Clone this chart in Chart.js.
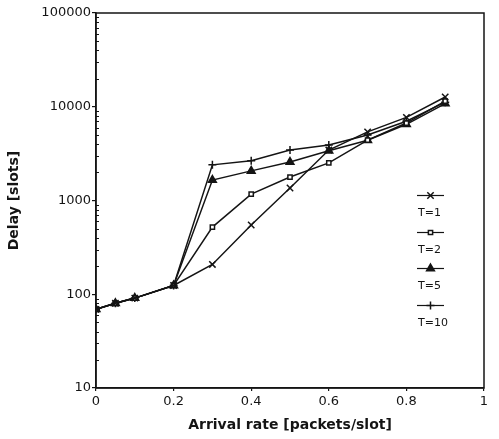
<!DOCTYPE html>
<html>
<head>
<meta charset="utf-8">
<script src="https://cdn.jsdelivr.net/npm/chart.js@4/dist/chart.umd.min.js"></script>
<style>
  html, body { margin: 0; padding: 0; background: #fff; }
  #wrap { width: 499px; height: 439px; }
</style>
</head>
<body>
<div id="wrap"><canvas id="c" width="499" height="439"></canvas></div>
<script>
const arrivalRate = [0, 0.05, 0.1, 0.2, 0.3, 0.4, 0.5, 0.6, 0.7, 0.8, 0.9];
const delayT1  = [69, 80, 91, 124, 208, 548, 1360, 3450, 5400, 7700, 12700];
const delayT2  = [69, 80, 91, 124, 520, 1170, 1780, 2520, 4400, 6700, 11500];
const delayT5  = [69, 80, 91, 124, 1650, 2070, 2570, 3400, 4400, 6500, 10800];
const delayT10 = [69, 80, 91, 124, 2400, 2650, 3450, 3900, 5000, 7000, 11200];
const seriesLabels = ['T=1', 'T=2', 'T=5', 'T=10'];
const xTickValues = [0, 0.2, 0.4, 0.6, 0.8, 1];
const xTickLabels = ['0', '0.2', '0.4', '0.6', '0.8', '1'];
const yTickValues = [10, 100, 1000, 10000, 100000];
const yTickLabels = ['10', '100', '1000', '10000', '100000'];
const xTitle = 'Arrival rate [packets/slot]';
const yTitle = 'Delay [slots]';

const INK = '#141414';
const FONT = "'DejaVu Sans', sans-serif";

function toPts(ys) { return arrivalRate.map((x, i) => ({ x: x, y: ys[i] })); }

const styles = [
  { pointStyle: 'crossRot', pointRadius: 4.5, pointBackgroundColor: INK },
  { pointStyle: 'rect', pointRadius: 3, pointBackgroundColor: '#fff' },
  { pointStyle: 'triangle', pointRadius: 4.5, pointBackgroundColor: INK },
  { pointStyle: 'cross', pointRadius: 4, pointBackgroundColor: INK }
];
const series = [delayT1, delayT2, delayT5, delayT10];

const datasets = series.map((s, i) => Object.assign({
  label: seriesLabels[i],
  data: toPts(s),
  borderColor: INK,
  borderWidth: 1.5,
  pointBorderColor: INK,
  pointBorderWidth: 1.5,
  tension: 0,
  fill: false
}, styles[i]));

const framePlugin = {
  id: 'frame',
  afterDraw(chart) {
    const ctx = chart.ctx, a = chart.chartArea;
    const ys = chart.scales.y, xs = chart.scales.x;
    ctx.save();
    ctx.strokeStyle = INK;
    ctx.lineWidth = 1.5;
    ctx.strokeRect(a.left, a.top, a.right - a.left, a.bottom - a.top);
    // minor log ticks inside on the left axis
    ctx.lineWidth = 1;
    for (let d = 10; d < 100000; d *= 10) {
      for (let k = 2; k <= 9; k++) {
        const y = Math.round(ys.getPixelForValue(d * k)) + 0.5;
        ctx.beginPath();
        ctx.moveTo(a.left, y);
        ctx.lineTo(a.left + 3, y);
        ctx.stroke();
      }
    }
    // legend
    const lx0 = 417, lx1 = 444;
    const ly = [195, 232, 268, 305];
    ctx.font = '11px ' + FONT;
    ctx.fillStyle = INK;
    ctx.textBaseline = 'middle';
    ctx.textAlign = 'left';
    chart.data.datasets.forEach((ds, i) => {
      ctx.strokeStyle = INK;
      ctx.lineWidth = 1.2;
      ctx.beginPath();
      ctx.moveTo(lx0, ly[i] + 0.5);
      ctx.lineTo(lx1, ly[i] + 0.5);
      ctx.stroke();
      ctx.lineWidth = 1.5;
      ctx.fillStyle = ds.pointBackgroundColor;
      Chart.helpers.drawPoint(ctx, { pointStyle: ds.pointStyle, radius: ds.pointRadius, borderWidth: 1.5, rotation: 0 }, (lx0 + lx1) / 2, ly[i] + 0.5);
      ctx.fillStyle = INK;
      ctx.fillText(ds.label, lx0 + 1, ly[i] + 18);
    });
    ctx.restore();
  }
};

new Chart(document.getElementById('c'), {
  type: 'line',
  data: { datasets: datasets },
  options: {
    responsive: false,
    animation: false,
    devicePixelRatio: 1,
    layout: { padding: { top: 13, right: 15, left: 0, bottom: 0 } },
    plugins: { legend: { display: false }, tooltip: { enabled: false } },
    scales: {
      x: {
        type: 'linear',
        min: 0, max: 1,
        afterBuildTicks(scale) { scale.ticks = xTickValues.map(v => ({ value: v })); },
        afterFit(scale) { scale.height = 51; },
        grid: { display: true, drawOnChartArea: false, drawTicks: true, tickLength: 3, color: INK, lineWidth: 1.2 },
        border: { display: true, color: INK, width: 1.5 },
        ticks: {
          autoSkip: false, maxRotation: 0, padding: 3, color: INK,
          font: { family: FONT, size: 13 },
          callback(v, i) { return xTickLabels[i]; }
        },
        title: { display: true, text: xTitle, color: INK, font: { family: FONT, size: 14, weight: 'bold' }, padding: { top: 0, bottom: 5 } }
      },
      y: {
        type: 'logarithmic',
        min: 10, max: 100000,
        afterBuildTicks(scale) { scale.ticks = yTickValues.map(v => ({ value: v, major: true })); },
        afterFit(scale) { scale.width = 96; },
        grid: { display: true, drawOnChartArea: false, drawTicks: true, tickLength: 4, color: INK, lineWidth: 1.2 },
        border: { display: true, color: INK, width: 1.5 },
        ticks: {
          autoSkip: false, padding: 1, color: INK,
          font: { family: FONT, size: 13 },
          callback(v, i) { return yTickLabels[i]; }
        },
        title: { display: true, text: yTitle, color: INK, font: { family: FONT, size: 14, weight: 'bold' }, padding: { top: 6, bottom: 0 } }
      }
    }
  },
  plugins: [framePlugin]
});
</script>
</body>
</html>
